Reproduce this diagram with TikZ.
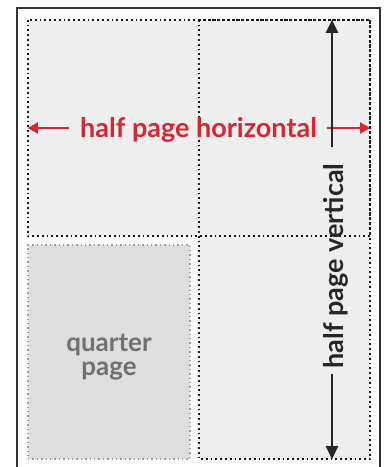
\documentclass[tikz,border=0pt]{standalone}
\usepackage{fontspec}
\setmainfont{Lato}
\usepackage{xcolor}
\usetikzlibrary{arrows.meta,positioning,calc}

\definecolor{pagered}{HTML}{D7262F}
\definecolor{halfgray}{HTML}{EEEEEE}
\definecolor{quartergray}{HTML}{DFDEDE}
\definecolor{quartertext}{HTML}{707072}
\definecolor{framegray}{HTML}{333333}

\begin{document}
\begin{tikzpicture}[x=1pt, y=-1pt,
    halfbox/.style={fill=halfgray, draw=none, minimum width=#1, inner sep=0pt},
    qbox/.style={fill=quartergray, draw=gray!75, line width=1.4pt, dash pattern=on 1.4pt off 3pt, inner sep=0pt},
    dotline/.style={draw=black!90, line width=1.8pt, dash pattern=on 1.8pt off 3pt},
    redarr/.style={-{Triangle[length=10pt, width=11pt]}, line width=2pt, draw=pagered},
    blkarr/.style={-{Triangle[length=13pt, width=12pt]}, line width=2pt, draw=black!85},
    lbl/.style={font=\bfseries\fontsize{27}{30}\selectfont, inner sep=0pt}
]
    \useasboundingbox (0,0) rectangle (386,467);

    % page frame
    \draw[framegray, line width=2pt] (17,470) -- (17,8) -- (380,8) -- (380,470);

    % page areas
    \node[halfbox=342pt, minimum height=216pt] (halfh) at (199,128) {};
    \node[halfbox=171pt, minimum height=439pt] (halfv) at (284.5,239.5) {};
    \node[qbox, minimum width=162pt, minimum height=214pt] (quarter) at (109,352) {};
    \draw[dotline] (halfh.north west) rectangle (halfh.south east);
    \draw[dotline] (halfv.north west) rectangle (halfv.south east);

    % labels
    \node[lbl, text=pagered, anchor=base] (htext) at (198.5,137) {half page horizontal};
    \node[lbl, text=black!85, rotate=90] (vtext) at (336,266) {half page vertical};
    \node[font=\bfseries\fontsize{26}{24}\selectfont, text=quartertext, align=center] (qtext) at (109,357) {quarter\\page};

    % arrows
    \coordinate (hmid) at (198.5,128);
    \draw[redarr] ([xshift=-11pt]htext.west |- hmid) -- (halfh.west |- hmid);
    \draw[redarr] ([xshift=10pt]htext.east |- hmid) -- (halfh.east |- hmid);
    \draw[blkarr] ([yshift=16pt]vtext.east -| 332,0) -- (332,0 |- halfv.north);
    \draw[blkarr] ([yshift=-5pt]vtext.west -| 332,0) -- (332,0 |- halfv.south);
\end{tikzpicture}
\end{document}
